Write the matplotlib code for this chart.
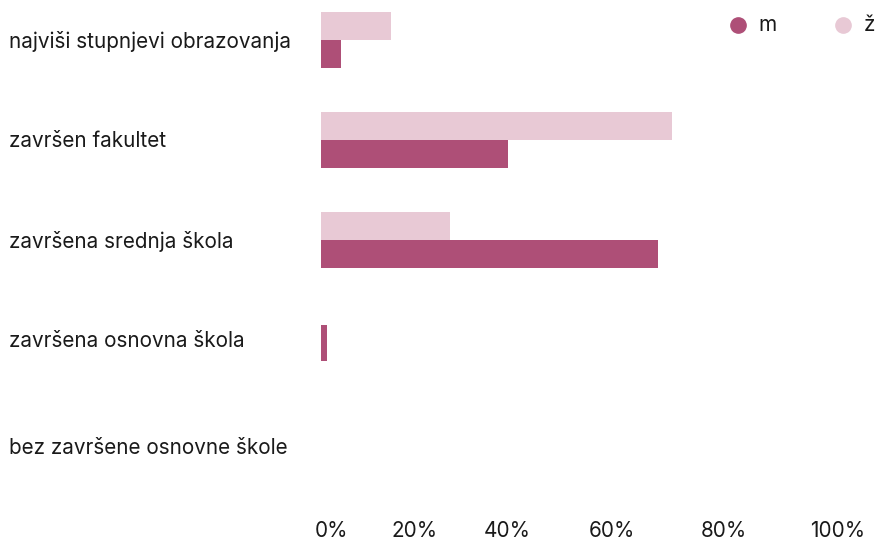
import matplotlib.pyplot as plt
from matplotlib.lines import Line2D

plt.rcParams['font.family'] = ['Inter', 'DejaVu Sans']

# podaci
kategorije = ['najviši stupnjevi obrazovanja', 'završen fakultet', 'završena srednja škola',
              'završena osnovna škola', 'bez završene osnovne škole']
m = [3.6, 34.0, 61.3, 1.1, 0]
z = [12.7, 63.8, 23.5, 0, 0]
tick_labels = ['0%', '20%', '40%', '60%', '80%', '100%']

boja_m = '#ae4f77'
boja_z = '#e8c9d5'

W, H = 877, 542
fig = plt.figure(figsize=(W / 100, H / 100), dpi=100)
# osi u pikselima: lijevo 321, desno 871, vrh 0, dno 490
ax = fig.add_axes([321 / W, 1 - 490 / H, 550 / W, 490 / H])
ax.set_xlim(0, 100)
ax.set_ylim(4.505, -0.395)
ax.axis('off')

y = list(range(len(kategorije)))
# kad postoji samo jedna serija, traka je malo viša (kao u izvorniku)
vis_m = [0.28, 0.28, 0.28, 0.36, 0.28]
pom_m = [0.14, 0.14, 0.14, 0.035, 0.14]
ax.barh([v - 0.14 for v in y], z, height=0.28, color=boja_z)
ax.barh([v + p for v, p in zip(y, pom_m)], m, height=vis_m, color=boja_m)

fs = 14.9
for i, k in enumerate(kategorije):
    yy = i + 0.015 if i < 4 else i + 0.085
    ax.text(-312 / 550 * 100, yy, k, fontsize=fs, color='#1a1a1a', ha='left', va='center')

# oznake osi x (raspored kao u izvorniku)
pozicije = [332, 415, 507, 612, 724, 838]
for p, t in zip(pozicije, tick_labels):
    fig.text(p / W, 1 - 531 / H, t, fontsize=fs, color='#1a1a1a', ha='center', va='center')

# legenda
for cx, tx, boja, t in [(738, 758, boja_m, 'm'), (843, 864, boja_z, 'ž')]:
    fig.add_artist(Line2D([cx / W], [1 - 25 / H], marker='o', markersize=11,
                          color=boja, linestyle='none', transform=fig.transFigure))
    fig.text(tx / W, 1 - 25 / H, t, fontsize=fs, color='#1a1a1a', ha='left', va='center')

fig.savefig('out.png', dpi=100)
